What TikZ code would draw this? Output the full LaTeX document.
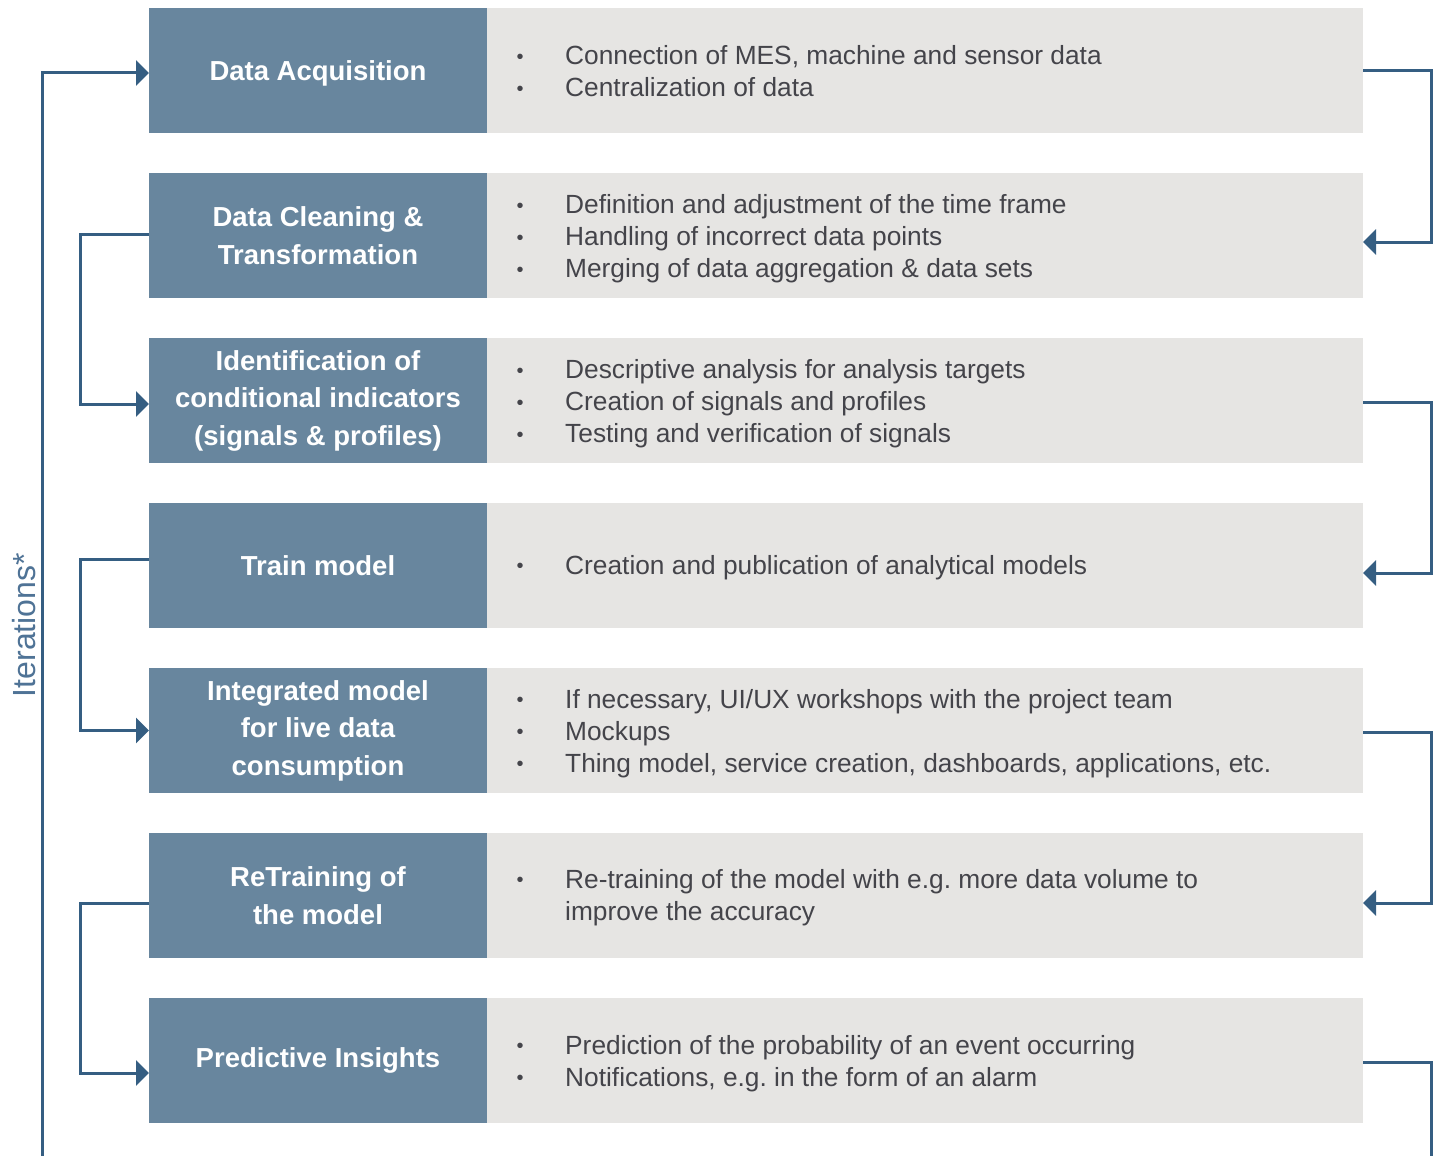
\documentclass[tikz,border=0pt]{standalone}
\usepackage{fontspec}
\setmainfont{Liberation Sans}
\usetikzlibrary{arrows.meta}
\frenchspacing
\definecolor{darkbox}{HTML}{68869E}
\definecolor{lightbox}{HTML}{E6E5E3}
\definecolor{linec}{HTML}{355E82}
\definecolor{itc}{HTML}{4F7396}
\definecolor{txt}{HTML}{44444A}
\newcommand\bul{\makebox[49.5pt][l]{\hspace*{1pt}{\fontsize{20}{20}\selectfont\raisebox{1.5pt}{•}}}}
\newcommand\cont{\hspace*{49.5pt}}
\newcommand\nodepth[1]{\raisebox{0pt}[\height][0pt]{#1}}
\begin{document}
\begin{tikzpicture}[x=1pt,y=-1pt,
  titlebox/.style={fill=darkbox, minimum width=338pt, minimum height=125pt, inner sep=0pt, outer sep=0pt,
    text=white, font=\bfseries\fontsize{27.5}{37.5}\selectfont, align=center, anchor=north west},
  descbox/.style={fill=lightbox, minimum width=876pt, minimum height=125pt, inner sep=0pt, outer sep=0pt, anchor=north west},
  desctext/.style={text=txt, font=\frenchspacing\fontsize{26.3}{32}\selectfont, align=left, anchor=west, inner sep=0pt},
  conn/.style={draw=linec, line width=3pt},
  arr/.style={conn, -{Triangle[length=13pt,width=25pt]}}
]
\useasboundingbox (0,0) rectangle (1438,1156);
\fill[white] (0,0) rectangle (1438,1156);

\foreach \i/\t in {1/{\nodepth{Data Acquisition}},2/{Data Cleaning \&\\Transformation},3/{Identification of\\conditional indicators\\(signals \& profiles)},4/{Train model},5/{Integrated model\\for live data\\consumption},6/{ReTraining of\\the model},7/{Predictive Insights}}{
  \node[descbox] (l\i) at (487,{8+165*(\i-1)}) {};
  \node[titlebox] (d\i) at (149,{8+165*(\i-1)}) {\t};
}

\node[desctext] (t1) at ([xshift=28.5pt,yshift=-1pt]l1.west) {\bul Connection of MES, machine and sensor data\\\bul Centralization of data};
\node[desctext] (t2) at ([xshift=28.5pt,yshift=-3.5pt]l2.west) {\bul Definition and adjustment of the time frame\\\bul Handling of incorrect data points\\\bul Merging of data aggregation \& data sets};
\node[desctext] (t3) at ([xshift=28.5pt,yshift=-3.5pt]l3.west) {\bul Descriptive analysis for analysis targets\\\bul Creation of signals and profiles\\\bul Testing and verification of signals};
\node[desctext] (t4) at ([xshift=28.5pt,yshift=-2pt]l4.west) {\bul Creation and publication of analytical models};
\node[desctext] (t5) at ([xshift=28.5pt,yshift=-3pt]l5.west) {\bul If necessary, UI/UX workshops with the project team\\\bul Mockups\\\bul Thing model, service creation, dashboards, applications, etc.};
\node[desctext] (t6) at ([xshift=28.5pt,yshift=-2pt]l6.west) {\bul Re-training of the model with e.g.\ more data volume to\\\cont improve the accuracy};
\node[desctext] (t7) at ([xshift=28.5pt,yshift=-3pt]l7.west) {\bul Prediction of the probability of an event occurring\\\bul Notifications, e.g.\ in the form of an alarm};

\node[rotate=90, text=itc, font=\fontsize{32}{34}\selectfont, inner sep=0pt] (it) at (24,625) {Iterations*};

\coordinate (botL) at (42,1160);
\coordinate (botR) at (1431,1160);

\draw[arr] (botL) |- ([yshift=-2.5pt]d1.west);
\draw[arr] ([yshift=-0.5pt]l1.east) -- ++(68,0) |- ([yshift=-6.5pt]l2.east);
\draw[arr] ([yshift=1.5pt]d2.west) -- ++(-69,0) |- ([yshift=-3.5pt]d3.west);
\draw[arr] ([yshift=-1.5pt]l3.east) -- ++(68,0) |- ([yshift=-7.5pt]l4.east);
\draw[arr] ([yshift=6.5pt]d4.west) -- ++(-69,0) |- (d5.west);
\draw[arr] ([yshift=-1.5pt]l5.east) -- ++(68,0) |- ([yshift=-7.5pt]l6.east);
\draw[arr] ([yshift=-7.5pt]d6.west) -- ++(-69,0) |- ([yshift=-12.5pt]d7.west);
\draw[conn] ([yshift=-1.5pt]l7.east) -| (botR);
\end{tikzpicture}
\end{document}
